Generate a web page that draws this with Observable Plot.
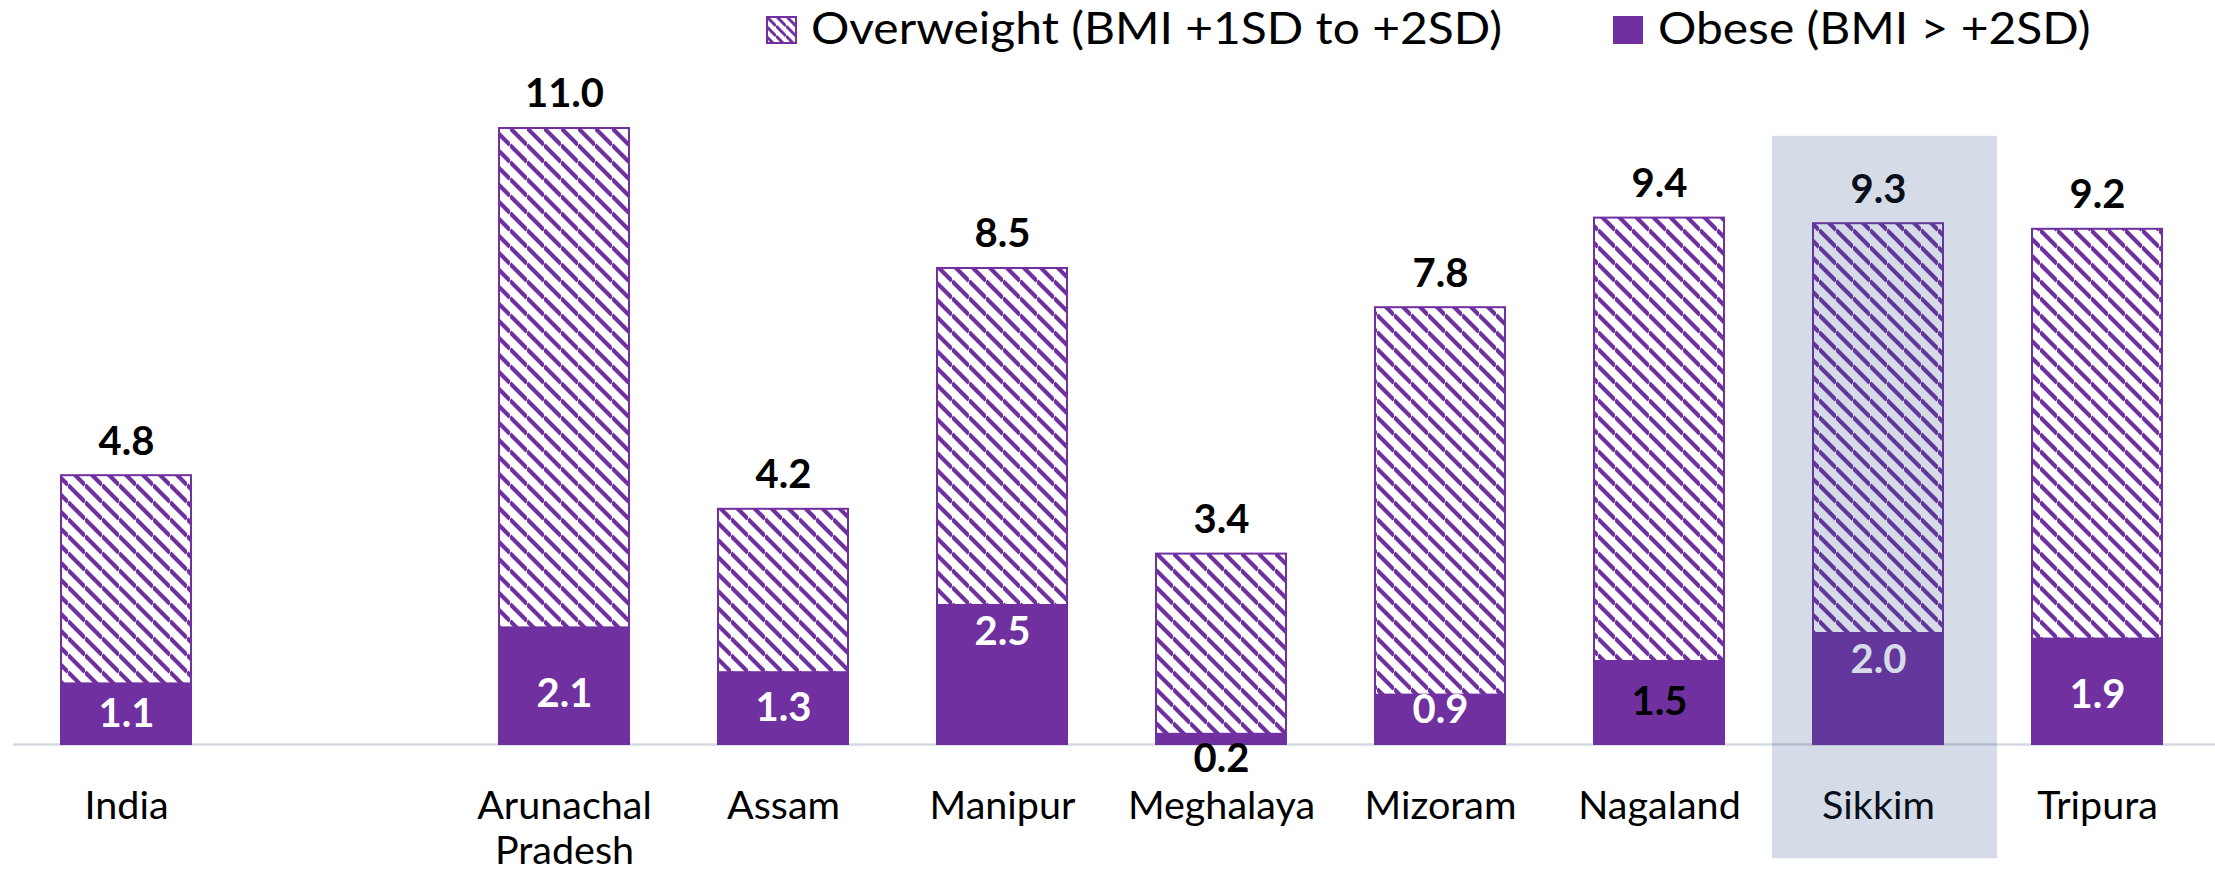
<!DOCTYPE html>
<html>
<head>
<meta charset="utf-8">
<script src="https://cdn.jsdelivr.net/npm/d3@7"></script>
<script src="https://cdn.jsdelivr.net/npm/@observablehq/plot@0.6"></script>
<style>
  html, body { margin: 0; padding: 0; background: #ffffff; }
  #wrap { width: 2215px; height: 870px; position: relative; font-family: Lato, "Open Sans", sans-serif; color: #000; }
  #legend { position: relative; width: 2215px; height: 60px; font-size: 44px; line-height: 44px; }
  #legend .sw { position: absolute; top: 16px; }
  #legend .lt { position: absolute; top: 5px; white-space: nowrap; transform: scaleX(1.09); transform-origin: 0 50%; }
</style>
</head>
<body>
<div id="wrap">
  <div id="legend">
    <svg class="sw" style="left:766px" width="31" height="28">
      <defs>
        <pattern id="hatchLegend" patternUnits="userSpaceOnUse" width="10" height="10">
          <rect width="10" height="10" fill="white"></rect>
          <path d="M0,0L10,10M0,-10L10,0M0,10L10,20" stroke="#7030a0" stroke-width="3"></path>
        </pattern>
      </defs>
      <rect x="1" y="1" width="29" height="26" fill="url(#hatchLegend)" stroke="#7030a0" stroke-width="2"></rect>
    </svg>
    <span class="lt" id="lt1" style="left:811px">Overweight (BMI +1SD to +2SD)</span>
    <div class="sw" style="left:1613px;width:30px;height:28px;background:#7030a0"></div>
    <span class="lt" id="lt2" style="left:1658px">Obese (BMI &gt; +2SD)</span>
  </div>
  <div id="chart"></div>
</div>
<script>
// ---- data ----
const categories = ["India", "Arunachal Pradesh", "Assam", "Manipur", "Meghalaya", "Mizoram", "Nagaland", "Sikkim", "Tripura"];
const overweight = [4.8, 11.0, 4.2, 8.5, 3.4, 7.8, 9.4, 9.3, 9.2];
const obese = [1.1, 2.1, 1.3, 2.5, 0.2, 0.9, 1.5, 2.0, 1.9];
const spacer = " ";
const highlighted = ["Sikkim"];
const highlightExtent = [-2.04, 10.86];

// ---- styling ----
const purple = "#7030a0";
const obeseLabelShift = {"Arunachal Pradesh": 8, "Manipur": -42, "Meghalaya": 20, "Mizoram": -9, "Sikkim": -28, "Tripura": 4};
const obeseLabelDark = new Set(["Meghalaya", "Nagaland"]);

const data = categories.map((c, i) => ({state: c, overweight: overweight[i], obese: obese[i]}));
const xDomain = [categories[0], spacer, ...categories.slice(1)];

const plot = Plot.plot({
  width: 2215,
  height: 810,
  marginTop: 12,
  marginBottom: 126,
  marginLeft: 13,
  marginRight: 0,
  style: {fontFamily: "Lato, 'Open Sans', sans-serif", background: "white", color: "black", overflow: "visible"},
  x: {domain: xDomain, range: [58, 2164.4], paddingInner: 0.408, paddingOuter: 0, align: 0.5, label: null, axis: null},
  y: {domain: [0, 12], axis: null},
  marks: [
    Plot.ruleY([0], {stroke: "#d3d9e2", strokeWidth: 2.5}),
    Plot.barY(data, {x: "state", y: "overweight", fill: "url(#hatch)", stroke: purple, strokeWidth: 2}),
    Plot.barY(data, {x: "state", y: "obese", fill: purple}),
    Plot.text(data, {x: "state", y: "overweight", text: d => d.overweight.toFixed(1), dy: -34, fontSize: 40, fontWeight: "bold", fill: "black"}),
    ...data.map(d => Plot.text([d], {
      x: "state", y: v => v.obese / 2, text: v => v.obese.toFixed(1),
      dy: obeseLabelShift[d.state] || 0,
      fontSize: 40, fontWeight: "bold",
      fill: obeseLabelDark.has(d.state) ? "black" : "white"
    })),
    Plot.axisX({tickSize: 0, tickPadding: 42, fontSize: 39.5, lineHeight: 1.15, fill: "black",
      tickFormat: d => d.replace(" ", "\n"), label: null}),
    Plot.barY(highlighted, {x: d => d, y1: highlightExtent[0], y2: highlightExtent[1],
      fill: "rgb(46,81,137)", fillOpacity: 0.2, insetLeft: -41, insetRight: -54})
  ]
});

const w = 17, h = 17;
const defs = d3.select(plot).insert("defs", ":first-child");
const pat = defs.append("pattern").attr("id", "hatch").attr("patternUnits", "userSpaceOnUse")
  .attr("width", w).attr("height", h);
pat.append("rect").attr("width", w).attr("height", h).attr("fill", "white");
pat.append("path").attr("d", `M0,0L${w},${h}M0,${-h}L${w},0M0,${h}L${w},${2 * h}`)
  .attr("stroke", purple).attr("stroke-width", 4.2).attr("fill", "none");

document.getElementById("chart").appendChild(plot);
</script>
</body>
</html>
